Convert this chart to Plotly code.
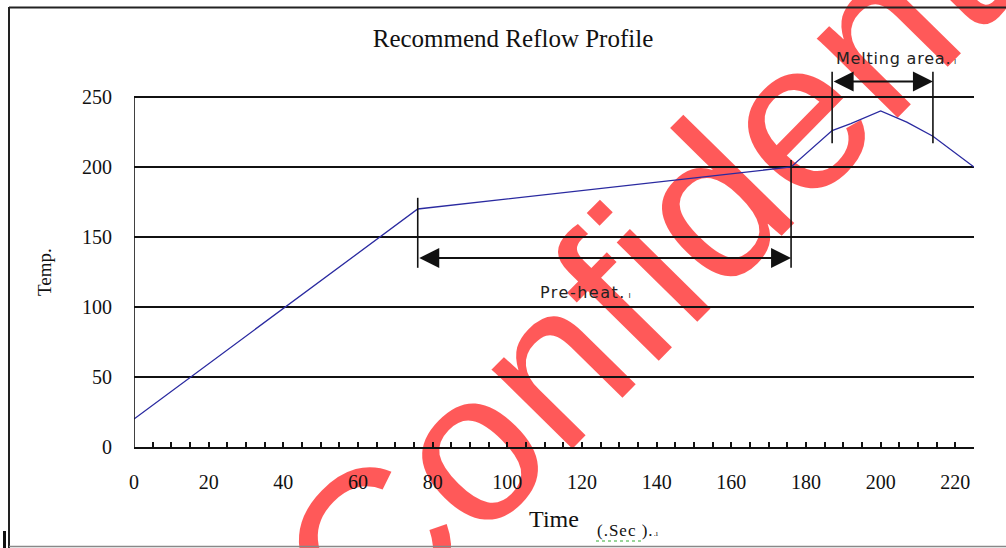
import plotly.graph_objects as go

# ---- data ----
time_s = [0, 76, 176, 187, 192, 200, 207, 214, 225]
temp_c = [20, 170, 200, 226, 231, 240, 232, 222, 200]
ytick_vals = [0, 50, 100, 150, 200, 250]
xtick_vals = [0, 20, 40, 60, 80, 100, 120, 140, 160, 180, 200, 220]
preheat_span = [76, 176]
melting_span = [187, 214]

W, H = 1006, 548
ML, MR, MT, MB = 134, 32, 48, 101
PW, PH = W - ML - MR, H - MT - MB


def px(x):
    return (x - ML) / PW


def py(y):
    return (H - MB - y) / PH


fig = go.Figure()
fig.add_trace(go.Scatter(x=time_s, y=temp_c, mode="lines",
                         line=dict(color="#2a2aa0", width=1.3),
                         hoverinfo="skip", showlegend=False))

serif = "Liberation Serif, Times New Roman, serif"
sans = "DejaVu Sans, sans-serif"

shapes = []
# watermark (between gridlines and traces)
shapes.append(dict(type="rect", xref="paper", yref="paper",
                   x0=px(698), x1=px(700), y0=py(186), y1=py(184),
                   line=dict(width=0), fillcolor="rgba(0,0,0,0)", layer="between",
                   label=dict(text="Confidential", textangle=-45.5,
                              textposition="middle center", padding=0,
                              font=dict(family="Liberation Sans, Arial, sans-serif",
                                        size=214, color="rgba(255,0,0,0.65)"))))
# y axis line (0..250)
shapes.append(dict(type="line", xref="x", yref="y", x0=0, x1=0, y0=0, y1=250,
                   line=dict(color="#111", width=1.6)))
# pre-heat brackets
shapes.append(dict(type="line", xref="x", yref="y", x0=preheat_span[0], x1=preheat_span[0],
                   y0=128, y1=178, line=dict(color="#111", width=1.6)))
shapes.append(dict(type="line", xref="x", yref="y", x0=preheat_span[1], x1=preheat_span[1],
                   y0=128, y1=205, line=dict(color="#111", width=1.6)))
# melting brackets
for xv in melting_span:
    shapes.append(dict(type="line", xref="x", yref="y", x0=xv, x1=xv,
                       y0=217, y1=268, line=dict(color="#111", width=1.6)))
# page frame
shapes.append(dict(type="line", xref="paper", yref="paper", x0=px(9), x1=px(9),
                   y0=py(7), y1=py(548), line=dict(color="#222", width=2)))
shapes.append(dict(type="line", xref="paper", yref="paper", x0=px(9), x1=px(1006),
                   y0=py(7.5), y1=py(7.5), line=dict(color="#222", width=2)))
shapes.append(dict(type="line", xref="paper", yref="paper", x0=px(9), x1=px(1006),
                   y0=py(546.5), y1=py(546.5), line=dict(color="#888", width=1.5)))
shapes.append(dict(type="line", xref="paper", yref="paper", x0=px(4.5), x1=px(4.5),
                   y0=py(531), y1=py(548), line=dict(color="#111", width=3)))
# spell-check squiggle
shapes.append(dict(type="line", xref="paper", yref="paper", x0=px(596), x1=px(641),
                   y0=py(541), y1=py(541), line=dict(color="#3a3", width=1, dash="dot")))

annotations = []
# double arrows
annotations.append(dict(x=preheat_span[1], y=135, ax=preheat_span[0], ay=135,
                        xref="x", yref="y", axref="x", ayref="y", text="",
                        showarrow=True, arrowhead=2, startarrowhead=2,
                        arrowside="end+start", arrowsize=2, startarrowsize=2,
                        arrowwidth=2, arrowcolor="#111"))
annotations.append(dict(x=melting_span[1], y=261, ax=melting_span[0], ay=261,
                        xref="x", yref="y", axref="x", ayref="y", text="",
                        showarrow=True, arrowhead=2, startarrowhead=2,
                        arrowside="end+start", arrowsize=2, startarrowsize=2,
                        arrowwidth=2, arrowcolor="#111"))
annotations.append(dict(x=121, y=110.5, xref="x", yref="y", showarrow=False,
                        xanchor="center", yanchor="middle",
                        text="<span style='letter-spacing:1.5px'>Pre-heat.</span>"
                             "<span style='font-size:8px'> ı</span>",
                        font=dict(family=sans, size=16, color="#222")))
annotations.append(dict(x=204, y=277.5, xref="x", yref="y", showarrow=False,
                        xanchor="center", yanchor="middle",
                        text="<span style='letter-spacing:0.8px'>Melting area.</span>"
                             "<span style='font-size:8px'> ı</span>",
                        font=dict(family=sans, size=16, color="#222")))
# y axis title (centred on the 0..250 span)
annotations.append(dict(x=px(44), y=py(272), xref="paper", yref="paper", showarrow=False,
                        xanchor="center", yanchor="middle", textangle=-90,
                        text="Temp.", font=dict(family=serif, size=19, color="#111")))
# "(.Sec )." next to axis title
annotations.append(dict(x=px(628), y=py(530), xref="paper", yref="paper", showarrow=False,
                        xanchor="center", yanchor="middle",
                        text="<span style='letter-spacing:1px'>(.Sec ).</span>"
                             "<span style='font-size:8px'>.ı</span>",
                        font=dict(family=serif, size=17, color="#111")))

fig.update_layout(
    width=W, height=H, autosize=False,
    margin=dict(l=ML, r=MR, t=MT, b=MB),
    paper_bgcolor="white", plot_bgcolor="white",
    title=dict(text="Recommend Reflow Profile", x=px(513), xref="paper",
               y=1 - 38 / H, yref="container", xanchor="center", yanchor="middle",
               font=dict(family=serif, size=25, color="#111")),
    xaxis=dict(range=[0, 225], tickvals=xtick_vals, ticks="inside", ticklen=5,
               tickwidth=1.5, tickcolor="#111", showgrid=False, zeroline=False,
               showline=True, linecolor="#111", linewidth=1.6,
               ticklabelstandoff=16,
               minor=dict(dtick=5, tick0=0, ticks="inside", ticklen=5, tickwidth=1.5,
                          tickcolor="#111", showgrid=False),
               tickfont=dict(family=serif, size=20, color="#111"),
               title=dict(text="Time", standoff=18,
                          font=dict(family=serif, size=24, color="#111"))),
    yaxis=dict(range=[0, 285], tickvals=ytick_vals, ticks="", showgrid=True,
               gridcolor="#111", gridwidth=1.5, zeroline=False, showline=False,
               ticklabelstandoff=21,
               tickfont=dict(family=serif, size=20, color="#111")),
    shapes=shapes, annotations=annotations,
)

fig.write_html("out.html", config={"displayModeBar": False},
               post_script="document.body.style.margin='0';"
                           "document.body.style.overflow='hidden';")
